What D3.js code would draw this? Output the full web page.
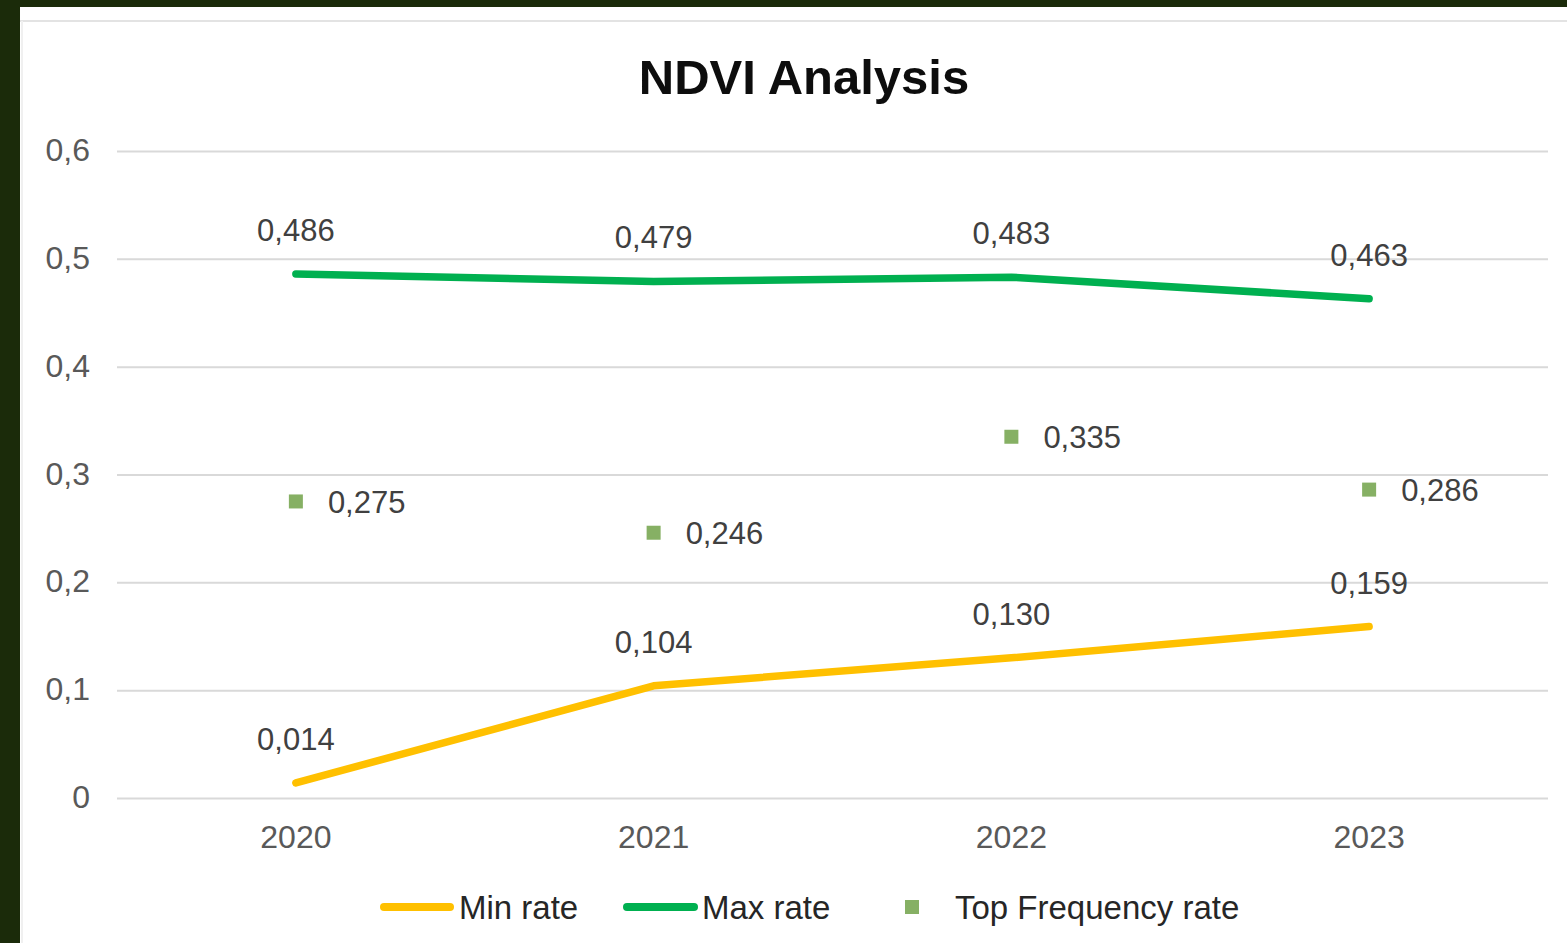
<!DOCTYPE html>
<html>
<head>
<meta charset="utf-8">
<script src="https://cdn.jsdelivr.net/npm/d3@7"></script>
<style>
html,body{margin:0;padding:0;background:#1b2b0a;}
svg{display:block;}
</style>
</head>
<body>
<svg id="chart" width="1567" height="943"></svg>
<script>
const years = ["2020", "2021", "2022", "2023"];
const minRate = [0.014, 0.104, 0.130, 0.159];
const maxRate = [0.486, 0.479, 0.483, 0.463];
const topFreqRate = [0.275, 0.246, 0.335, 0.286];
const yTicks = [0, 0.1, 0.2, 0.3, 0.4, 0.5, 0.6];
const title = "NDVI Analysis";
const legendLabels = ["Min rate", "Max rate", "Top Frequency rate"];

const fmt = v => d3.format(".3f")(v).replace(".", ",");
const fmtTick = v => v === 0 ? "0" : String(v).replace(".", ",");

const svg = d3.select("#chart");
const font = "'Liberation Sans', Arial, sans-serif";

// panel
svg.append("rect").attr("x", 0).attr("y", 0).attr("width", 1567).attr("height", 943).attr("fill", "#1b2b0a");
svg.append("rect").attr("x", 20).attr("y", 7).attr("width", 1547).attr("height", 936).attr("fill", "#ffffff");
svg.append("line").attr("x1", 20).attr("x2", 1567).attr("y1", 21).attr("y2", 21).attr("stroke", "#e3e3e3").attr("stroke-width", 2);
svg.append("line").attr("x1", 22).attr("x2", 22).attr("y1", 21).attr("y2", 943).attr("stroke", "#f0f0f0").attr("stroke-width", 2);

const plot = {left: 117, right: 1548, top: 151, bottom: 798};

const x = d3.scaleBand().domain(years).range([plot.left, plot.right]);
const xc = d => x(d) + x.bandwidth() / 2;
const y = d3.scaleLinear().domain([0, 0.6]).range([plot.bottom, plot.top]);

// title
svg.append("text").attr("x", 804).attr("y", 94).attr("text-anchor", "middle")
  .attr("font-family", font).attr("font-weight", "bold").attr("font-size", 49)
  .attr("fill", "#0d0d0d").text(title);

// grid
const yAxis = d3.axisLeft(y).tickValues(yTicks).tickSize(-(plot.right - plot.left)).tickFormat(fmtTick).tickPadding(27);
const gy = svg.append("g").attr("transform", `translate(${plot.left},0)`).call(yAxis);
gy.select(".domain").remove();
gy.selectAll(".tick line").attr("stroke", "#d9d9d9").attr("stroke-width", 2);
gy.selectAll(".tick text").attr("font-family", font).attr("font-size", 32).attr("fill", "#595959").attr("dy", "0.3em");

// x axis labels
const xAxis = d3.axisBottom(x).tickSize(0).tickPadding(27);
const gx = svg.append("g").attr("transform", `translate(0,${plot.bottom})`).call(xAxis);
gx.select(".domain").remove();
gx.selectAll(".tick text").attr("font-family", font).attr("font-size", 32).attr("fill", "#595959");

// lines
const line = d3.line().x((d, i) => xc(years[i])).y(d => y(d));
svg.append("path").datum(maxRate).attr("d", line).attr("fill", "none")
  .attr("stroke", "#00b050").attr("stroke-width", 7.5).attr("stroke-linecap", "round").attr("stroke-linejoin", "round");
svg.append("path").datum(minRate).attr("d", line).attr("fill", "none")
  .attr("stroke", "#ffc000").attr("stroke-width", 7.5).attr("stroke-linecap", "round").attr("stroke-linejoin", "round");

// markers
svg.selectAll("rect.mk").data(topFreqRate).enter().append("rect").attr("class", "mk")
  .attr("x", (d, i) => xc(years[i]) - 7).attr("y", d => y(d) - 7)
  .attr("width", 14).attr("height", 14).attr("fill", "#86b064");

// data labels
const lblStyle = s => s.attr("font-family", font).attr("font-size", 31).attr("fill", "#404040");
svg.selectAll("text.mx").data(maxRate).enter().append("text").attr("class", "mx")
  .attr("x", (d, i) => xc(years[i])).attr("y", d => y(d) - 33).attr("text-anchor", "middle")
  .call(lblStyle).text(fmt);
svg.selectAll("text.mn").data(minRate).enter().append("text").attr("class", "mn")
  .attr("x", (d, i) => xc(years[i])).attr("y", d => y(d) - 33).attr("text-anchor", "middle")
  .call(lblStyle).text(fmt);
svg.selectAll("text.tf").data(topFreqRate).enter().append("text").attr("class", "tf")
  .attr("x", (d, i) => xc(years[i]) + 32).attr("y", d => y(d)).attr("dy", "0.36em")
  .call(lblStyle).text(fmt);

// legend
const ly = 907;
const lg = svg.append("g");
lg.append("line").attr("x1", 384).attr("x2", 450).attr("y1", ly).attr("y2", ly)
  .attr("stroke", "#ffc000").attr("stroke-width", 8).attr("stroke-linecap", "round");
lg.append("text").attr("x", 459).attr("y", ly).attr("dy", "0.36em").attr("font-family", font).attr("font-size", 33).attr("fill", "#262626").text(legendLabels[0]);
lg.append("line").attr("x1", 627).attr("x2", 694).attr("y1", ly).attr("y2", ly)
  .attr("stroke", "#00b050").attr("stroke-width", 8).attr("stroke-linecap", "round");
lg.append("text").attr("x", 702).attr("y", ly).attr("dy", "0.36em").attr("font-family", font).attr("font-size", 33).attr("fill", "#262626").text(legendLabels[1]);
lg.append("rect").attr("x", 905).attr("y", ly - 7).attr("width", 14).attr("height", 14).attr("fill", "#86b064");
lg.append("text").attr("x", 955).attr("y", ly).attr("dy", "0.36em").attr("font-family", font).attr("font-size", 33).attr("fill", "#262626").text(legendLabels[2]);
</script>
</body>
</html>
